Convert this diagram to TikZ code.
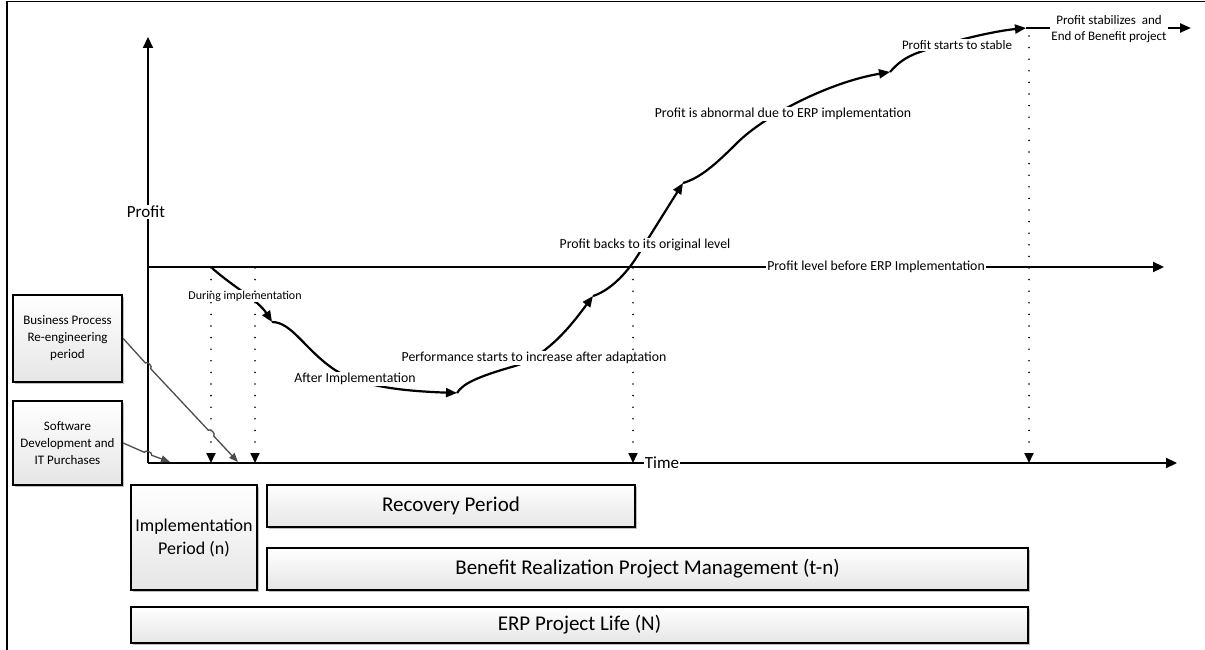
\documentclass[tikz,border=0pt]{standalone}
\usepackage{fontspec}
\setmainfont{Carlito}
\usetikzlibrary{arrows.meta,shadows}

\tikzset{
  axis/.style={line width=2.2pt,-{Triangle[length=11pt,width=10pt]}},
  growth/.style={line width=2.2pt,-{Triangle[length=11pt,width=9pt]}},
  marker/.style={line width=1.8pt,line cap=round,dash pattern=on 0pt off 11.6pt,-{Triangle[length=10pt,width=9pt]}},
  feed/.style={draw=black!70,line width=1.3pt,-{Triangle[length=9pt,width=7pt]}},
  note/.style={fill=white,inner sep=1pt,font=\fontsize{13.8}{16.5}\selectfont,align=center},
  axlabel/.style={fill=white,inner sep=1pt,font=\fontsize{17}{20}\selectfont},
  panel/.style={draw,line width=2.4pt,top color=white,bottom color=black!10,align=center,inner sep=0pt,
    font=\fontsize{21}{25}\selectfont,
    drop shadow={shadow xshift=1.5pt,shadow yshift=-1.5pt,opacity=0.25,fill=black}},
}

\begin{document}
\begin{tikzpicture}[x=1pt,y=-1pt]
    \useasboundingbox (0,0) rectangle (1205,650);
    \draw[line width=1.8pt] (7,650) -- (7,1.5) -- (1205,1.5);

    % axes and the level before ERP
    \coordinate (O) at (148,463);
    \coordinate (ytop) at (148,37);
    \coordinate (xend) at (1177,463);
    \coordinate (lvl) at (148,267);
    \coordinate (lvlend) at (1164,267);
    \draw[axis] (O) -- (ytop);
    \draw[axis] (O) -- (xend);
    \draw[axis] (lvl) -- (lvlend);

    % profit curve
    \coordinate (k0) at (212,268);
    \coordinate (k1) at (272,322);
    \coordinate (k2) at (457,393);
    \coordinate (k3) at (593,296);
    \coordinate (k4) at (683,183);
    \coordinate (k5) at (890,72);
    \coordinate (k6) at (1026,28);
    \coordinate (kend) at (1191,28);
    \draw[growth] (k0) .. controls (232,286) and (258,300) .. (k1);
    \draw[growth] (k1) .. controls (292,322) and (305,350) .. (335,370) .. controls (360,386) and (400,391) .. (k2);
    \draw[growth] (k2) .. controls (463,383) and (480,376) .. (515,366) .. controls (550,355) and (575,320) .. (k3);
    \draw[growth] (k3) .. controls (606,292) and (625,278) .. (641,250) -- (k4);
    \draw[growth] (k4) .. controls (700,178) and (715,165) .. (737,143) .. controls (765,115) and (830,82) .. (k5);
    \draw[growth] (k5) .. controls (897,64) and (905,57) .. (920,52) .. controls (955,40) and (995,31) .. (k6);
    \draw[growth] (k6) -- (kend);

    % labels
    \node[axlabel] (profit) at (146,212) {Profit};
    \node[axlabel] (time) at (662,463) {Time};
    \node[note] (before) at (876,267) {Profit level before ERP Implementation};
    \node[note,font=\fontsize{12}{14}\selectfont] (during) at (245,296) {During implementation};
    \node[note] (after) at (355,379) {After Implementation};
    \node[note] (adapt) at (534,358) {Performance starts to increase after adaptation};
    \node[note] (back) at (645,245) {Profit backs to its original level};
    \node[note] (abnormal) at (783,114) {Profit is abnormal due to ERP implementation};
    \node[note,font=\fontsize{13}{16}\selectfont] (stable) at (957,45) {Profit starts to stable};
    \node[note,font=\fontsize{13}{16.5}\selectfont] (stabilized) at (1109,29) {Profit stabilizes~ and\\End of Benefit project};

    % time markers
    \coordinate (t1) at (211,268);
    \coordinate (t2) at (255,268);
    \coordinate (t3) at (633,268);
    \coordinate (t4) at (1029,36);
    \draw[marker] (t1) -- (t1 |- O);
    \draw[marker] (t2) -- (t2 |- O);
    \draw[marker] (t3) -- (t3 |- O);
    \draw[marker] (t4) -- (t4 |- O);

    % periods
    \node[panel,minimum width=109pt,minimum height=87pt,font=\fontsize{13}{17}\selectfont] (bpr) at (67.5,338.5) {Business Process\\Re-engineering\\period};
    \node[panel,minimum width=109pt,minimum height=84pt,font=\fontsize{13}{17}\selectfont] (swdev) at (67.5,443) {Software\\Development and\\IT Purchases};
    \node[panel,minimum width=126pt,minimum height=105pt,font=\fontsize{18}{23}\selectfont] (impl) at (194,537.5) {Implementation\\Period (n)};
    \node[panel,minimum width=368pt,minimum height=42pt] (recovery) at (451,506) {Recovery Period};
    \node[panel,minimum width=761pt,minimum height=42pt] (benefit) at (647.5,569) {Benefit Realization Project Management (t-n)};
    \node[panel,minimum width=897pt,minimum height=36pt] (life) at (579.5,625) {ERP Project Life (N)};

    \coordinate (tipB) at (238,462);
    \coordinate (tipS) at (170,462);
    \draw[feed] (bpr.east) -- (145.3,362.9) to[bend left=90] (150.7,368.7) -- (208.3,430.2) to[bend left=90] (213.7,436.0) -- (tipB);
    \draw[feed] (swdev.east) -- (144.3,452.3) to[bend left=90] (151.7,455.3) -- (tipS);
\end{tikzpicture}
\end{document}
